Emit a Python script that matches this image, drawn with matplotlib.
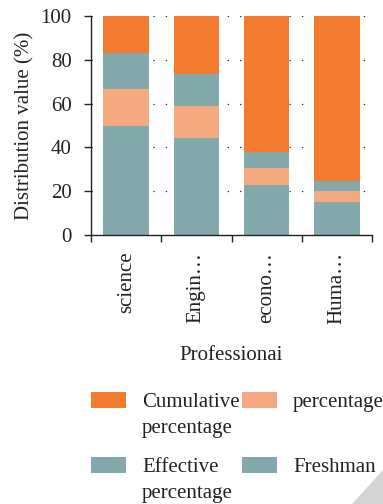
import matplotlib
matplotlib.use("Agg")
import matplotlib.pyplot as plt
import numpy as np
from matplotlib.patches import Polygon, Rectangle

plt.rcParams['font.family'] = ['Liberation Serif', 'DejaVu Serif']

categories = ["science", "Engin…", "econo…", "Huma…"]
freshman = [50.0, 44.4, 23.0, 15.0]
percentage = [16.7, 14.5, 7.6, 4.9]
effective = [16.6, 14.6, 7.5, 4.8]
cumulative = [16.7, 26.5, 61.9, 75.3]
series_labels = ["Cumulative percentage", "percentage", "Effective percentage", "Freshman"]

c_orange = "#F37B2F"
c_light = "#F5A97E"
c_teal = "#84A9AC"
c_text = "#222222"

W, H = 383, 504
fig = plt.figure(figsize=(W / 100, H / 100), dpi=100)
ax = fig.add_axes([91 / W, 1 - 235 / H, (372 - 91) / W, (235 - 16) / H])

x = np.arange(len(categories))
w = 0.65
ax.bar(x, freshman, w, color=c_teal, zorder=2)
bottom = np.array(freshman)
ax.bar(x, percentage, w, bottom=bottom, color=c_light, zorder=2)
bottom = bottom + np.array(percentage)
ax.bar(x, effective, w, bottom=bottom, color=c_teal, zorder=2)
bottom = bottom + np.array(effective)
ax.bar(x, cumulative, w, bottom=bottom, color=c_orange, zorder=2)

ax.set_xlim(-0.5, len(categories) - 0.5)
ax.set_ylim(0, 100)
ax.set_yticks([0, 20, 40, 60, 80, 100])

ax.set_xticks(x)
ax.set_xticklabels(categories, rotation=90, fontsize=15, color=c_text)
ax.set_xticks(np.arange(-0.5, len(categories)), minor=True)
ax.tick_params(axis='x', which='major', length=0, pad=12)
ax.tick_params(axis='x', which='minor', length=5, width=1, color=c_text)
ax.tick_params(axis='y', length=5, width=1, labelsize=15, colors=c_text, pad=9)

for s in ["top", "right"]:
    ax.spines[s].set_visible(False)
for s in ["left", "bottom"]:
    ax.spines[s].set_linewidth(1)
    ax.spines[s].set_color(c_text)

ax.yaxis.grid(True, linestyle=(0, (1.1, 8.8)), color="#333333", linewidth=0.9, zorder=0)
ax.set_axisbelow(True)

ax.set_ylabel("Distribution value (%)", fontsize=15, color=c_text, labelpad=4)
ax.set_xlabel("Professionai", fontsize=15, color=c_text, labelpad=16)

# legend drawn in pixel coordinates: two columns, wrapped labels
to_fig = lambda px, py: (px / W, 1 - py / H)
legend_items = [
    (c_orange, series_labels[0], 91, 392),
    (c_light, series_labels[1], 242, 392),
    (c_teal, series_labels[2], 91, 457),
    (c_teal, series_labels[3], 242, 457),
]
for color, label, px, py in legend_items:
    x0, y0 = to_fig(px, py + 16)
    fig.add_artist(Rectangle((x0, y0), 35 / W, 16 / H, transform=fig.transFigure,
                             facecolor=color, edgecolor="none"))
    words = label.split(" ")
    lines = [" ".join(words)] if len(words) == 1 else words
    for i, line in enumerate(lines):
        tx, ty = to_fig(px + 51, py + 15 + 26 * i)
        fig.text(tx, ty, line, fontsize=15, color=c_text, va="baseline", ha="left")

# folded page corner
fig.add_artist(Polygon([[352 / W, 0], [1, 34 / H], [1, 0]], closed=True,
                       transform=fig.transFigure, facecolor="#D4D4D4", edgecolor="none"))

fig.savefig("out.png", dpi=100)
